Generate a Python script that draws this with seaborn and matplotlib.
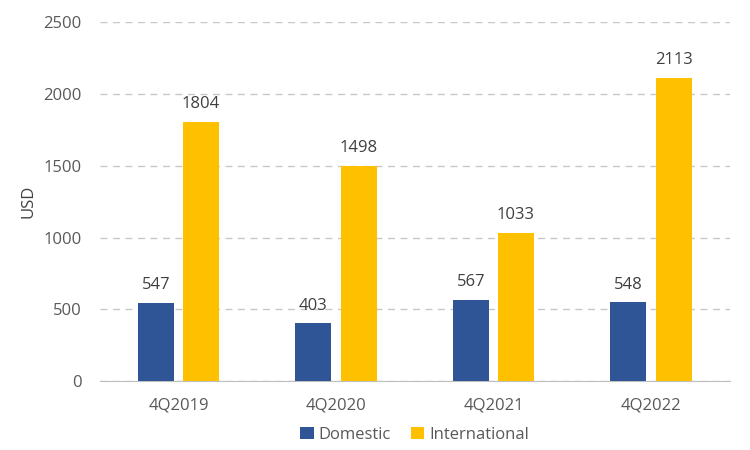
import pandas as pd
import matplotlib
matplotlib.use("Agg")
import matplotlib.pyplot as plt
import seaborn as sns

quarters = ["4Q2019", "4Q2020", "4Q2021", "4Q2022"]
domestic = [547, 403, 567, 548]
international = [1804, 1498, 1033, 2113]

df = pd.DataFrame({
    "Quarter": quarters * 2,
    "Value": domestic + international,
    "Type": ["Domestic"] * 4 + ["International"] * 4,
})

sns.set_style("white")
plt.rcParams["font.family"] = ["Open Sans", "DejaVu Sans"]

fig = plt.figure(figsize=(7.5, 4.5), dpi=100)
ax = fig.add_axes([0.133, 0.153, 0.84, 0.798])

palette = {"Domestic": "#2F5597", "International": "#FFC000"}
sns.barplot(data=df, x="Quarter", y="Value", hue="Type", palette=palette,
            width=0.572, gap=0.2, saturation=1, linewidth=0, ax=ax, zorder=3)

for c in ax.containers:
    ax.bar_label(c, padding=7, fontsize=12, color="#404040")

ax.set_ylim(0, 2500)
ax.set_xlim(-0.5, 3.5)
ax.set_yticks(range(0, 2501, 500))
ax.yaxis.grid(True, linestyle=(0, (5, 4)), color="#c8c8c8", linewidth=1, zorder=0)
for s in ["top", "right", "left"]:
    ax.spines[s].set_visible(False)
ax.spines["bottom"].set_color("#bfbfbf")
ax.tick_params(axis="both", length=0, labelsize=12, labelcolor="#595959")
ax.tick_params(axis="x", pad=12)
ax.tick_params(axis="y", pad=13)
ax.set_xlabel("")
ax.set_ylabel("USD", fontsize=12, color="#404040", labelpad=5)

ax.legend(loc="upper center", bbox_to_anchor=(0.5, -0.085), ncol=2, frameon=False,
          fontsize=12, handlelength=0.8, handleheight=0.8, handletextpad=0.3,
          columnspacing=1.2, labelcolor="#595959")

fig.savefig("out.png", dpi=100)
